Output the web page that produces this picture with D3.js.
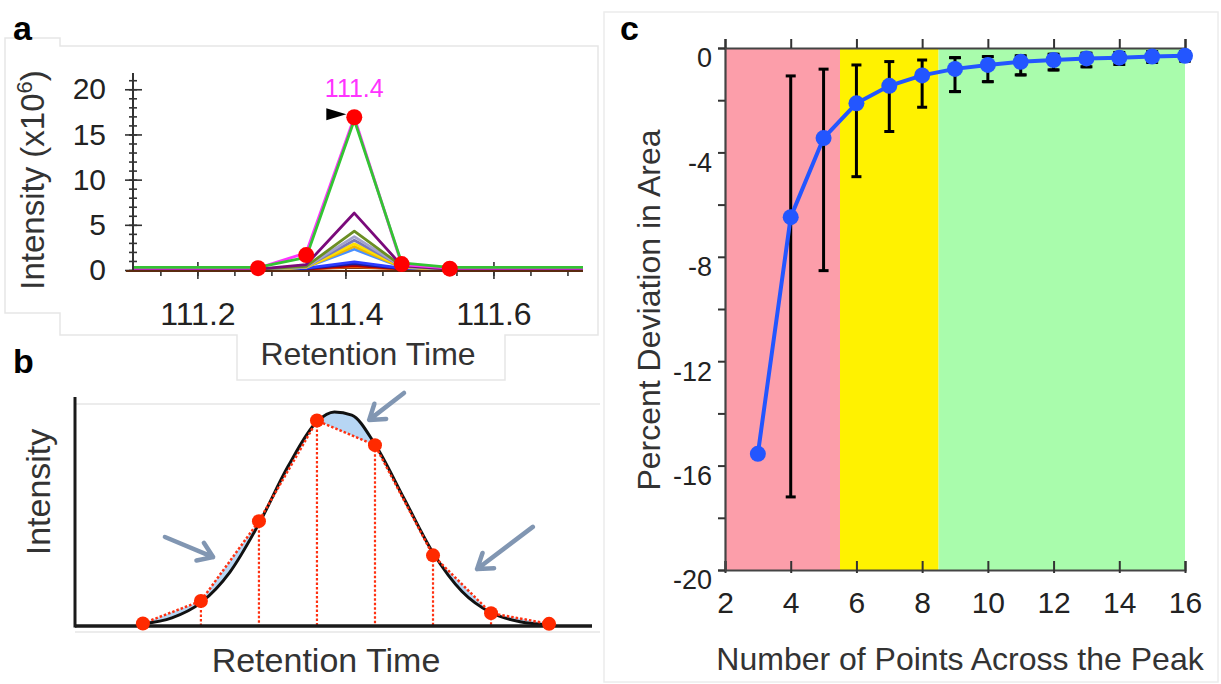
<!DOCTYPE html>
<html>
<head>
<meta charset="utf-8">
<script src="https://cdn.jsdelivr.net/npm/d3@7"></script>
<style>
    body { margin: 0; background: #fff; }
    svg { display: block; font-family: 'Liberation Sans', Arial, sans-serif; }
</style>
</head>
<body>
<div id="figure"></div>
<script>
// panel a - extracted chromatograms around 111.4 min
const rtTimes = [111.113, 111.282, 111.347, 111.412, 111.476, 111.541, 111.721];
const traceBrown = [0.12, 0.12, 0.15, 0.3, 0.15, 0.12, 0.12];
const traceOrange = [0.05, 0.05, 0.1, 0.4, 0.1, 0.05, 0.05];
const traceDarkRed = [0.05, 0.05, 0.1, 0.5, 0.12, 0.05, 0.05];
const traceNavy = [0.05, 0.05, 0.15, 0.7, 0.15, 0.05, 0.05];
const traceBlue = [0.05, 0.05, 0.2, 0.9, 0.2, 0.05, 0.05];
const traceSky = [0.05, 0.05, 0.3, 2.3, 0.3, 0.05, 0.05];
const traceGold = [0.05, 0.05, 0.3, 2.6, 0.3, 0.05, 0.05];
const traceYellow = [0.05, 0.05, 0.3, 2.9, 0.35, 0.05, 0.05];
const traceSlate = [0.08, 0.08, 0.35, 3.3, 0.4, 0.08, 0.08];
const traceLavender = [0.08, 0.08, 0.35, 3.7, 0.4, 0.08, 0.08];
const traceOlive = [0.1, 0.1, 0.4, 4.3, 0.45, 0.1, 0.1];
const tracePurple = [0.1, 0.1, 0.6, 6.3, 0.5, 0.1, 0.1];
const traceMagenta = [0.2, 0.2, 1.9, 16.9, 0.6, 0.2, 0.2];
const traceGreen = [0.3, 0.3, 1.4, 16.6, 0.8, 0.3, 0.3];
const sampleTimes = [111.282, 111.347, 111.412, 111.476, 111.541];
const sampleIntensity = [0.2, 1.65, 16.9, 0.66, 0.15];
const aYTicks = [0, 5, 10, 15, 20];
const aXTicks = [111.2, 111.4, 111.6];

// panel b - idealised peak and its 8 sampled points
const sampleIdx = [1, 2, 3, 4, 5, 6, 7, 8];
const sampleSignal = [0.012, 0.117, 0.49, 0.96, 0.845, 0.33, 0.06, 0.01];
const curveT = [1, 1.5, 2, 2.5, 3, 3.5, 4, 4.3, 4.6, 5, 5.5, 6, 6.5, 7, 7.5, 8];
const curveSignal = [0.011, 0.038, 0.109, 0.252, 0.478, 0.745, 0.955, 1.0, 0.985, 0.849, 0.596, 0.342, 0.161, 0.062, 0.02, 0.005];

// panel c - percent deviation vs points across the peak
const pointsAcross = [3, 4, 5, 6, 7, 8, 9, 10, 11, 12, 13, 14, 15, 16];
const pctDeviation = [-15.55, -6.48, -3.45, -2.12, -1.45, -1.05, -0.8, -0.65, -0.53, -0.46, -0.4, -0.37, -0.33, -0.3];
const errUpper = [null, -1.07, -0.81, -0.65, -0.52, -0.46, -0.37, -0.33, -0.3, -0.24, -0.2, -0.17, -0.14, -0.14];
const errLower = [null, -17.2, -8.53, -4.93, -3.2, -2.27, -1.67, -1.29, -1.03, -0.84, -0.72, -0.63, -0.55, -0.5];
const zoneStart = [2, 5.5, 8.5];
const zoneEnd = [5.5, 8.5, 16];
const cXTicks = [2, 4, 6, 8, 10, 12, 14, 16];
const cYTicks = [0, -4, -8, -12, -16, -20];

const svg = d3.select('#figure').append('svg')
    .attr('width', 1221)
    .attr('height', 684);

svg.append('rect').attr('width', 1221).attr('height', 684).attr('fill', '#fff');

drawPanelA();
drawPanelB();
drawPanelC();

function drawPanelA() {
    const g = svg.append('g');
    const x = d3.scaleLinear().domain([111.113, 111.721]).range([133, 583]);
    const y = d3.scaleLinear().domain([0, 21.8]).range([270, 73]);

    // faint panel frame
    g.append('path')
        .attr('d', 'M5,38H60V46H598V335H505V380H237V335H60V313H5Z')
        .attr('fill', 'none')
        .attr('stroke', '#e6e6e6')
        .attr('stroke-width', 1.5);

    // ticks
    g.append('g')
        .attr('transform', 'translate(133,0)')
        .call(d3.axisLeft(y).tickValues(d3.range(0, 22, 1)).tickSize(4).tickFormat(''))
        .call(a => a.select('.domain').remove());
    g.append('g')
        .attr('transform', 'translate(133,0)')
        .call(d3.axisRight(y).tickValues(d3.range(0, 22, 1)).tickSize(4).tickFormat(''))
        .call(a => a.select('.domain').remove());
    g.append('g')
        .attr('transform', 'translate(133,0)')
        .call(d3.axisRight(y).tickValues(aYTicks).tickSize(9).tickFormat(''))
        .call(a => a.select('.domain').remove());
    const yAxis = g.append('g')
        .attr('transform', 'translate(133,0)')
        .call(d3.axisLeft(y).tickValues(aYTicks).tickSize(8).tickPadding(19));
    yAxis.select('.domain').remove();
    yAxis.selectAll('text').attr('font-size', 30).attr('fill', '#222');

    g.append('g')
        .attr('transform', 'translate(0,270)')
        .call(d3.axisBottom(x).tickValues(d3.range(111.15, 111.72, 0.05)).tickSize(6).tickFormat(''))
        .call(a => a.select('.domain').remove());
    const xAxis = g.append('g')
        .attr('transform', 'translate(0,270)')
        .call(d3.axisBottom(x).tickValues(aXTicks).tickSize(9).tickPadding(23).tickFormat(d3.format('.1f')));
    xAxis.select('.domain').remove();
    xAxis.selectAll('text').attr('font-size', 32).attr('fill', '#222');
    g.append('g')
        .attr('transform', 'translate(0,270)')
        .call(d3.axisTop(x).tickValues(aXTicks).tickSize(8).tickFormat(''))
        .call(a => a.select('.domain').remove());
    g.selectAll('.tick line').attr('stroke', '#333').attr('stroke-width', 1.6);

    // traces
    const traces = [
        [traceBrown, '#8b3a0f'], [traceOrange, '#ff6a00'], [traceDarkRed, '#b00000'],
        [traceNavy, '#1a1aa0'], [traceBlue, '#2b3bff'], [traceSky, '#4a90ff'],
        [traceGold, '#f0b800'], [traceYellow, '#ffe000'], [traceSlate, '#7a7ab8'],
        [traceLavender, '#a3a3cc'], [traceOlive, '#6b8e23'], [tracePurple, '#7a0a7a'],
        [traceMagenta, '#ff33ff'], [traceGreen, '#33c433']
    ];
    const line = d3.line()
        .x((d, i) => x(rtTimes[i]))
        .y(d => y(d));
    g.selectAll('path.trace')
        .data(traces)
        .enter()
        .append('path')
        .attr('class', 'trace')
        .attr('d', t => line(t[0]))
        .attr('fill', 'none')
        .attr('stroke', t => t[1])
        .attr('stroke-width', 2.8)
        .attr('stroke-linejoin', 'round');

    // axis lines
    g.append('line').attr('x1', 133).attr('x2', 133).attr('y1', y(21.8)).attr('y2', 270)
        .attr('stroke', '#333').attr('stroke-width', 2);
    g.append('line').attr('x1', 126).attr('x2', 583).attr('y1', 271).attr('y2', 271)
        .attr('stroke', '#5a2a10').attr('stroke-width', 2);

    // sampled points
    g.selectAll('circle')
        .data(sampleTimes)
        .enter()
        .append('circle')
        .attr('cx', d => x(d))
        .attr('cy', (d, i) => y(sampleIntensity[i]))
        .attr('r', 8)
        .attr('fill', '#ff0000');

    // apex marker and label
    const apexX = x(sampleTimes[2]);
    const apexY = y(sampleIntensity[2]);
    g.append('path')
        .attr('d', 'M' + (apexX - 8) + ',' + (apexY - 3) + 'l-20,-6v12z')
        .attr('fill', '#000');
    g.append('text')
        .attr('x', apexX)
        .attr('y', 97)
        .attr('text-anchor', 'middle')
        .attr('font-size', 25)
        .attr('fill', '#ff33ff')
        .text('111.4');

    g.append('text')
        .attr('transform', 'translate(44,180) rotate(-90)')
        .attr('text-anchor', 'middle')
        .attr('font-size', 33)
        .attr('fill', '#333')
        .call(t => {
            t.append('tspan').text('Intensity (x10');
            t.append('tspan').attr('font-size', 22).attr('dy', -12).text('6');
            t.append('tspan').attr('dy', 12).text(')');
        });

    g.append('text')
        .attr('x', 368)
        .attr('y', 365)
        .attr('text-anchor', 'middle')
        .attr('font-size', 32)
        .attr('fill', '#333')
        .text('Retention Time');

    svg.append('text').attr('x', 13).attr('y', 40)
        .attr('font-size', 34).attr('font-weight', 'bold').text('a');
}

function drawPanelB() {
    const g = svg.append('g');
    const x = d3.scaleLinear().domain([-0.17, 8.74]).range([75, 592]);
    const y = d3.scaleLinear().domain([0, 1.07]).range([626, 397]);

    g.append('line').attr('x1', 75).attr('x2', 600).attr('y1', 404).attr('y2', 404)
        .attr('stroke', '#e6e6e6').attr('stroke-width', 1.5);
    g.append('line').attr('x1', 75).attr('x2', 600).attr('y1', 632).attr('y2', 632)
        .attr('stroke', '#e6e6e6').attr('stroke-width', 1.5);

    const curveLine = d3.line()
        .x((d, i) => x(curveT[i]))
        .y(d => y(d))
        .curve(d3.curveMonotoneX);
    const sampleLine = d3.line()
        .x((d, i) => x(sampleIdx[i]))
        .y(d => y(d));
    const reversedLine = d3.line()
        .x((d, i) => x(sampleIdx[sampleIdx.length - 1 - i]))
        .y(d => y(d));

    // area lost between the true peak and the sampled polyline
    g.append('path')
        .attr('d', curveLine(curveSignal) + reversedLine(sampleSignal.slice().reverse()).replace('M', 'L') + 'Z')
        .attr('fill', '#b7d6f4')
        .attr('stroke', 'none');

    g.append('path')
        .attr('d', curveLine(curveSignal))
        .attr('fill', 'none')
        .attr('stroke', '#111')
        .attr('stroke-width', 3);

    // drop lines and sample polyline
    g.selectAll('line.drop')
        .data(sampleIdx.slice(1, 7))
        .enter()
        .append('line')
        .attr('class', 'drop')
        .attr('x1', d => x(d))
        .attr('x2', d => x(d))
        .attr('y1', d => y(sampleSignal[d - 1]))
        .attr('y2', y(0))
        .attr('stroke', '#ff3010')
        .attr('stroke-width', 2.2)
        .attr('stroke-dasharray', '2.5 2');
    g.append('path')
        .attr('d', sampleLine(sampleSignal))
        .attr('fill', 'none')
        .attr('stroke', '#ff3010')
        .attr('stroke-width', 2.5)
        .attr('stroke-dasharray', '2.5 2');

    // axes
    g.append('line').attr('x1', x(-0.17)).attr('x2', x(-0.17)).attr('y1', y(1.07)).attr('y2', y(0) + 1.5)
        .attr('stroke', '#1a1a1a').attr('stroke-width', 3);
    g.append('line').attr('x1', x(-0.17)).attr('x2', x(8.74)).attr('y1', y(0)).attr('y2', y(0))
        .attr('stroke', '#1a1a1a').attr('stroke-width', 3.5);

    g.selectAll('circle')
        .data(sampleIdx)
        .enter()
        .append('circle')
        .attr('cx', d => x(d))
        .attr('cy', (d, i) => y(sampleSignal[i]))
        .attr('r', 7)
        .attr('fill', '#ff2a00');

    // arrows pointing at the missed area
    const arrows = [
        [[1.38, 0.416], [2.21, 0.322]],
        [[5.5, 1.089], [4.9, 0.963]],
        [[7.72, 0.463], [6.76, 0.266]]
    ];
    arrows.forEach(a => {
        const x1 = x(a[0][0]), y1 = y(a[0][1]), x2 = x(a[1][0]), y2 = y(a[1][1]);
        const ang = Math.atan2(y2 - y1, x2 - x1);
        const h = 17;
        const p1 = [x2 - h * Math.cos(ang - 0.6), y2 - h * Math.sin(ang - 0.6)];
        const p2 = [x2 - h * Math.cos(ang + 0.6), y2 - h * Math.sin(ang + 0.6)];
        g.append('path')
            .attr('d', 'M' + x1 + ',' + y1 + 'L' + x2 + ',' + y2 +
                'M' + p1 + 'L' + x2 + ',' + y2 + 'L' + p2)
            .attr('fill', 'none')
            .attr('stroke', '#8196b2')
            .attr('stroke-width', 4.5)
            .attr('stroke-linecap', 'round')
            .attr('stroke-linejoin', 'round');
    });

    g.append('text')
        .attr('transform', 'translate(50,492) rotate(-90)')
        .attr('text-anchor', 'middle')
        .attr('font-size', 34)
        .attr('fill', '#333')
        .text('Intensity');
    g.append('text')
        .attr('x', 326)
        .attr('y', 672)
        .attr('text-anchor', 'middle')
        .attr('font-size', 34)
        .attr('fill', '#333')
        .text('Retention Time');

    svg.append('text').attr('x', 13).attr('y', 373)
        .attr('font-size', 34).attr('font-weight', 'bold').text('b');
}

function drawPanelC() {
    const g = svg.append('g');
    const x = d3.scaleLinear().domain([2, 16]).range([725, 1185]);
    const y = d3.scaleLinear().domain([-20, 0]).range([570, 48]);

    g.append('rect')
        .attr('x', 604).attr('y', 12).attr('width', 614).attr('height', 670)
        .attr('fill', 'none').attr('stroke', '#ececec').attr('stroke-width', 1.5);

    const zoneColors = ['#fc9eaa', '#fff200', '#a9fcac'];
    g.selectAll('rect.zone')
        .data(zoneStart)
        .enter()
        .append('rect')
        .attr('class', 'zone')
        .attr('x', d => x(d))
        .attr('y', y(0))
        .attr('width', (d, i) => x(zoneEnd[i]) - x(d))
        .attr('height', y(-20) - y(0))
        .attr('fill', (d, i) => zoneColors[i]);

    // axes
    g.append('g')
        .attr('transform', 'translate(0,' + y(0) + ')')
        .call(d3.axisTop(x).tickValues(cXTicks).tickSize(9).tickFormat(''));
    g.append('g')
        .attr('transform', 'translate(0,' + y(-20) + ')')
        .call(d3.axisTop(x).tickValues(cXTicks).tickSize(9).tickFormat(''));
    g.append('g')
        .attr('transform', 'translate(0,' + y(-20) + ')')
        .call(d3.axisBottom(x).tickValues(cXTicks).tickSize(3).tickFormat(''))
        .call(a => a.select('.domain').remove());
    const xAxis = g.append('g')
        .attr('transform', 'translate(0,' + y(-20) + ')')
        .call(d3.axisBottom(x).tickValues(cXTicks).tickSize(0).tickPadding(32));
    xAxis.select('.domain').remove();
    xAxis.selectAll('text').attr('font-size', 30).attr('fill', '#222').attr('dy', '0.36em');

    g.append('g')
        .attr('transform', 'translate(' + x(2) + ',0)')
        .call(d3.axisLeft(y).tickValues(d3.range(-20, 1, 2)).tickSize(7).tickFormat(''));
    const yAxis = g.append('g')
        .attr('transform', 'translate(' + x(2) + ',0)')
        .call(d3.axisLeft(y).tickValues(cYTicks).tickSize(0).tickPadding(13).tickFormat(d3.format('d')));
    yAxis.select('.domain').remove();
    yAxis.selectAll('text').attr('font-size', 27).attr('fill', '#222').attr('dy', '0.7em')
        .text(d => d === 0 ? '0' : '-' + Math.abs(d));
    g.selectAll('.domain').attr('stroke', '#444').attr('stroke-width', 2.2);
    g.selectAll('.tick line').attr('stroke', '#333').attr('stroke-width', 2);

    // error bars
    const errG = g.selectAll('g.err')
        .data(pointsAcross.map((d, i) => ({ n: d, hi: errUpper[i], lo: errLower[i] })).filter(e => e.hi !== null))
        .enter()
        .append('g')
        .attr('class', 'err');
    errG.append('line')
        .attr('x1', e => x(e.n)).attr('x2', e => x(e.n))
        .attr('y1', e => y(e.hi)).attr('y2', e => y(e.lo));
    errG.append('line')
        .attr('x1', e => x(e.n) - 5).attr('x2', e => x(e.n) + 5)
        .attr('y1', e => y(e.hi)).attr('y2', e => y(e.hi));
    errG.append('line')
        .attr('x1', e => x(e.n) - 5).attr('x2', e => x(e.n) + 5)
        .attr('y1', e => y(e.lo)).attr('y2', e => y(e.lo));
    errG.selectAll('line').attr('stroke', '#000').attr('stroke-width', 3);

    const line = d3.line()
        .x((d, i) => x(pointsAcross[i]))
        .y(d => y(d));
    g.append('path')
        .attr('d', line(pctDeviation))
        .attr('fill', 'none')
        .attr('stroke', '#2356ff')
        .attr('stroke-width', 4);
    g.selectAll('circle')
        .data(pctDeviation)
        .enter()
        .append('circle')
        .attr('cx', (d, i) => x(pointsAcross[i]))
        .attr('cy', d => y(d))
        .attr('r', 8)
        .attr('fill', '#2356ff');

    // the caps peek out of the markers for the dense points
    errG.filter(e => e.n >= 9).each(function (e) {
        d3.select(this).append('line')
            .attr('x1', x(e.n) - 6).attr('x2', x(e.n) + 6)
            .attr('y1', y(e.hi)).attr('y2', y(e.hi))
            .attr('stroke', '#000').attr('stroke-width', 3);
        d3.select(this).append('line')
            .attr('x1', x(e.n) - 6).attr('x2', x(e.n) + 6)
            .attr('y1', y(e.lo)).attr('y2', y(e.lo))
            .attr('stroke', '#000').attr('stroke-width', 3);
    });

    g.append('text')
        .attr('transform', 'translate(660,310) rotate(-90)')
        .attr('text-anchor', 'middle')
        .attr('font-size', 32)
        .attr('fill', '#333')
        .text('Percent Deviation in Area');
    g.append('text')
        .attr('x', 960)
        .attr('y', 670)
        .attr('text-anchor', 'middle')
        .attr('font-size', 32)
        .attr('fill', '#333')
        .text('Number of Points Across the Peak');

    svg.append('text').attr('x', 620).attr('y', 40)
        .attr('font-size', 34).attr('font-weight', 'bold').text('c');
}
</script>
</body>
</html>
